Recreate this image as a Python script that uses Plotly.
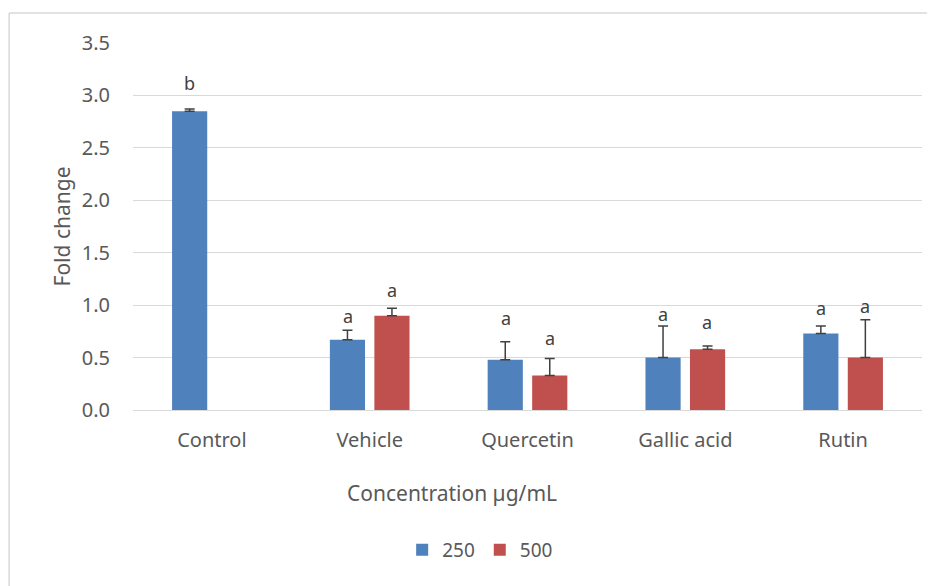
import plotly.graph_objects as go

categories = ["Control", "Vehicle", "Quercetin", "Gallic acid", "Rutin"]
series_names = ["250", "500"]

values_250 = [2.85, 0.67, 0.48, 0.50, 0.73]
errors_250 = [0.02, 0.09, 0.17, 0.30, 0.07]
letters_250 = ["b", "a", "a", "a", "a"]
letter_y_250 = [3.12, 0.90, 0.88, 0.92, 0.97]

values_500 = [None, 0.90, 0.33, 0.58, 0.50]
errors_500 = [0, 0.07, 0.16, 0.03, 0.36]
letters_500 = ["", "a", "a", "a", "a"]
letter_y_500 = [None, 1.14, 0.69, 0.84, 0.99]

colors = {"250": "#4F81BD", "500": "#C0504D"}
font_family = "Noto Sans"
text_color = "#595959"

fig = go.Figure()

for name, vals, errs in [("250", values_250, errors_250), ("500", values_500, errors_500)]:
    fig.add_trace(go.Bar(
        x=categories,
        y=vals,
        name=name,
        marker=dict(color=colors[name], line=dict(width=0)),
        error_y=dict(
            type="data",
            array=errs,
            arrayminus=[0] * len(errs),
            symmetric=False,
            color="#404040",
            thickness=1.5,
            width=5,
        ),
    ))

# letters above the bars
annotations = []
for letters, ys, shift in [(letters_250, letter_y_250, -22), (letters_500, letter_y_500, 22)]:
    for cat, letter, y in zip(categories, letters, ys):
        if letter:
            annotations.append(dict(
                x=cat, y=y, xref="x", yref="y", text=letter, showarrow=False,
                xshift=shift, font=dict(size=18, color="#404040", family=font_family),
            ))

annotations.append(dict(
    x=0.404, y=-0.226, xref="paper", yref="paper", text="Concentration µg/mL",
    xanchor="center", yanchor="middle",
    showarrow=False, font=dict(size=21, color=text_color, family=font_family),
))
annotations.append(dict(
    x=-0.09, y=0.5, xref="paper", yref="paper", text="Fold change", textangle=-90,
    xanchor="center", yanchor="middle",
    showarrow=False, font=dict(size=21, color=text_color, family=font_family),
))

fig.update_layout(
    width=927,
    height=578,
    margin=dict(l=125, r=13, t=35, b=176),
    paper_bgcolor="white",
    plot_bgcolor="white",
    barmode="group",
    bargap=0.436,
    bargroupgap=0.21,
    font=dict(family=font_family, size=19, color=text_color),
    annotations=annotations,
    showlegend=True,
    legend=dict(
        orientation="h",
        x=0.44, y=-0.381,
        xanchor="center", yanchor="middle",
        font=dict(size=19, color=text_color),
        itemwidth=30,
        traceorder="normal",
    ),
    shapes=[
        dict(type="line", xref="paper", yref="paper", x0=-0.157, x1=-0.157, y0=-0.5, y1=1.082,
             line=dict(color="#D9D9D9", width=1.5)),
        dict(type="line", xref="paper", yref="paper", x0=-0.157, x1=1.02, y0=1.082, y1=1.082,
             line=dict(color="#D9D9D9", width=1.5)),
    ],
)

fig.update_yaxes(
    range=[0, 3.5],
    dtick=0.5,
    tickformat=".1f",
    showgrid=True,
    gridcolor="#D9D9D9",
    gridwidth=1,
    zeroline=False,
    showline=False,
    ticklabelstandoff=22,
    tickfont=dict(size=20, color=text_color),
)
fig.update_xaxes(
    showline=True,
    linecolor="#D9D9D9",
    linewidth=1,
    ticks="",
    ticklabelstandoff=12,
    tickfont=dict(size=20, color=text_color),
)

fig.write_html("out.html")
